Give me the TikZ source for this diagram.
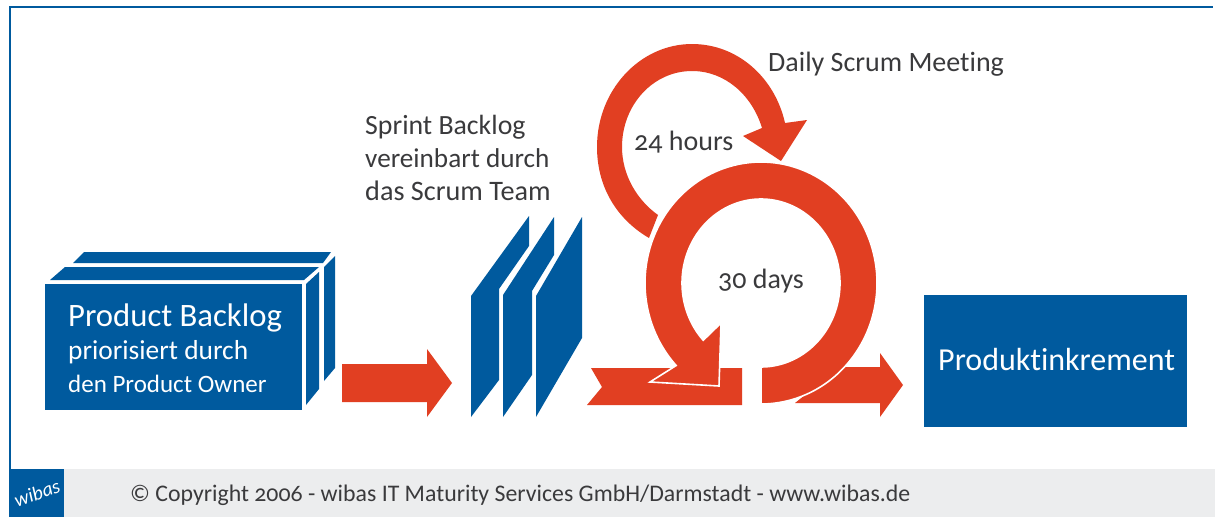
\documentclass[tikz,border=0pt]{standalone}
\usepackage{fontspec}
\setmainfont[Numbers=OldStyle,Ligatures=NoCommon]{Carlito}
\definecolor{wblue}{HTML}{005A9E}
\definecolor{wred}{HTML}{E13F22}
\definecolor{wgrey}{HTML}{ECEDEE}
\definecolor{wtext}{HTML}{3A3A3C}
\newcommand{\sz}[1]{\fontsize{#1}{#1}\selectfont}
\tikzset{
  bluefill/.style={fill=wblue,draw=none},
  redfill/.style={fill=wred,draw=none},
  redring/.style={fill=wred,draw=white,line width=1.6pt,line join=miter},
  label/.style={anchor=base west,inner sep=0pt,text=wtext},
  whitelabel/.style={anchor=base west,inner sep=0pt,text=white}
}
\begin{document}
\begin{tikzpicture}[x=1pt,y=-1pt]
\useasboundingbox (0,0) rectangle (1215,517);
\fill[white] (0,0) rectangle (1215,517);
% frame
\fill[wblue] (9,6) rectangle (1213,8);
\fill[wblue] (9,6) rectangle (11,469);
% footer
\fill[wgrey] (64,469) rectangle (1215,517);
\fill[wblue] (9,469) rectangle (64,517);
\node[whitelabel,anchor=center,rotate=20] (logo) at (37,493) {\sz{20}\itshape wibas};
\node[label] (copy) at (130,501) {\sz{23.8}© Copyright 2006 - wibas IT Maturity Services GmbH/Darmstadt - www.wibas.de};
% product backlog
\path[bluefill] (73,263) -- (84,252) -- (331,252) -- (323,263) -- cycle;
\path[bluefill] (50,280) -- (65,267) -- (319,267) -- (304,280) -- cycle;
\path[bluefill] (324,267) -- (335,256) -- (335,368) -- (324,381) -- cycle;
\path[bluefill] (306,284) -- (319,272) -- (319,389) -- (306,405) -- cycle;
\path[bluefill] (45,284) rectangle (302,410);
\node[whitelabel] (pb1) at (68,326) {\sz{32.7}Product Backlog};
\node[whitelabel] (pb2) at (68,359) {\sz{27.4}priorisiert durch};
\node[whitelabel] (pb3) at (68,392) {\sz{25}den Product Owner};
% arrow 1
\path[redfill] (342,364) -- (427,364) -- (427,349) -- (452,383) -- (427,417) -- (427,402) -- (342,402) -- cycle;
% sprint sheets
\path[bluefill] (471,296) -- (529,216) -- (529,246) -- (499,289) -- (499,380) -- (471,417) -- cycle;
\path[bluefill] (503,295) -- (554,217) -- (554,255) -- (532,291) -- (532,375) -- (503,417) -- cycle;
\path[bluefill] (536,296) -- (582,217) -- (582,338) -- (536,417) -- cycle;
\node[label] (sb1) at (365,134) {\sz{27.8}Sprint Backlog};
\node[label] (sb2) at (365,167) {\sz{27.2}vereinbart durch};
\node[label] (sb3) at (365,200) {\sz{28.2}das Scrum Team};
% output arrow
\path[redfill] (795,403) -- (880,403) -- (880,417) -- (903,385) -- (880,353) -- (880,367) -- (840,367) -- cycle;
% bar
\path[redfill] (591,368) -- (742,368) -- (742,405) -- (587,405) -- (602,387) -- cycle;
% small loop
\path[redfill] (649,238) .. controls (615,218) and (597,185) .. (597,147)
  .. controls (597,90) and (640,44) .. (692,44)
  .. controls (738,44) and (775,78) .. (785,123)
  -- (807,120) -- (781,161) -- (743,136) -- (762,128)
  .. controls (752,95) and (725,71) .. (692,71)
  .. controls (653,71) and (622,105) .. (622,147)
  .. controls (622,175) and (637,200) .. (658,215) -- cycle;
% big ring
\path[redring] plot[domain=90:-223,samples=90,smooth] ({761+116*cos(\x)},{283+121*sin(\x)})
  -- (650,382) -- (719,386) -- (721,323) --
  plot[domain=-223:90,samples=90,smooth] ({761+79*cos(\x)},{283+84*sin(\x)}) -- cycle;
% labels
\node[label] (daily) at (768,71) {\sz{28}Daily Scrum Meeting};
\node[label] (h24) at (634,150) {\sz{28}24 hours};
\node[label] (d30) at (718,288) {\sz{28}30 days};
% result
\path[bluefill] (924,295) rectangle (1187,427);
\node[whitelabel] (prod) at (938,370) {\sz{32}Produktinkrement};
\end{tikzpicture}
\end{document}
